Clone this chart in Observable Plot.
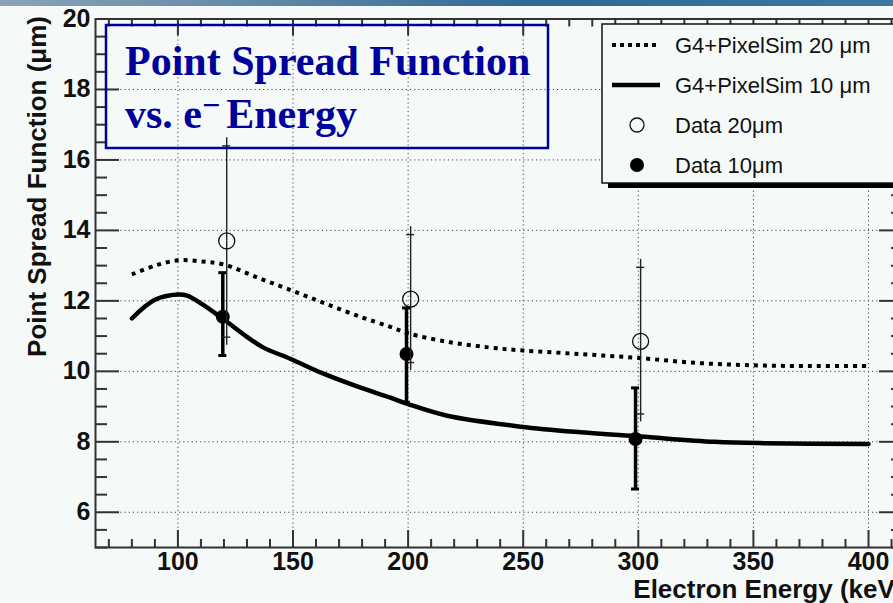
<!DOCTYPE html>
<html>
<head>
<meta charset="utf-8">
<script src="https://cdn.jsdelivr.net/npm/d3@7"></script>
<script src="https://cdn.jsdelivr.net/npm/@observablehq/plot@0.6"></script>
<style>
  html, body { margin: 0; padding: 0; background: #f5faf8; }
  #wrap { position: relative; width: 893px; height: 603px; overflow: hidden; background: #f5faf8; }
  #band { position: absolute; left: 0; top: 0; width: 893px; height: 6px;
          background: linear-gradient(90deg, #8aa3b6 0%, #6188a6 30%, #2e6995 60%, #3b78a4 100%); }
  #chart { position: absolute; left: 0; top: 0; }
</style>
</head>
<body>
<div id="wrap">
  <div id="band"></div>
  <div id="chart"></div>
</div>
<script>
// Geant4 + PixelSim simulation curves (PSF in µm vs electron energy in keV)
const simEnergy20 = [80, 90, 100, 110, 120, 135, 150, 165, 180, 192, 200, 217, 235, 250, 275, 300, 325, 350, 375, 400];
const simPsf20    = [12.75, 13.0, 13.15, 13.12, 13.03, 12.65, 12.28, 11.9, 11.53, 11.27, 11.08, 10.84, 10.68, 10.59, 10.49, 10.38, 10.24, 10.17, 10.15, 10.15];
const simEnergy10 = [80, 90, 100, 104, 110, 119, 130, 137, 149, 163, 180, 192, 200, 217, 249, 275, 301, 333, 355, 400];
const simPsf10    = [11.5, 12.03, 12.18, 12.15, 11.93, 11.52, 10.98, 10.68, 10.35, 9.94, 9.52, 9.26, 9.07, 8.74, 8.43, 8.27, 8.15, 8.0, 7.96, 7.94];

// Measured points with error bars
const dataEnergy10 = [119.5, 199.3, 298.8];
const dataPsf10    = [11.55, 10.49, 8.08];
const dataLow10    = [10.45, 9.12, 6.66];
const dataHigh10   = [12.8, 11.8, 9.53];
const dataEnergy20 = [121.2, 201.1, 301.0];
const dataPsf20    = [13.7, 12.05, 10.85];
const dataLow20    = [10.97, 10.25, 8.79];
const dataHigh20   = [16.4, 13.88, 12.95];

// Axes
const xDomain = [64.2, 415.2];
const yDomain = [5, 20];
const xMajor = [100, 150, 200, 250, 300, 350, 400];
const xMinor = d3.range(70, 411, 10).filter(v => v % 50 !== 0);
const yMajor = [6, 8, 10, 12, 14, 16, 18, 20];
const yMinor = d3.range(5, 20, 0.5).filter(v => v % 2 !== 0);
const xLabel = "Electron Energy (keV)";
const yLabel = "Point Spread Function (\u03bcm)";

// Text blocks
const titleLine1 = "Point Spread Function";
const titleLine2 = ["vs. e", "\u2212", "Energy"];
const legendLabels = ["G4+PixelSim 20 \u03bcm", "G4+PixelSim 10 \u03bcm", "Data 20\u03bcm", "Data 10\u03bcm"];

const sim20 = simEnergy20.map((x, i) => ({x, y: simPsf20[i]}));
const sim10 = simEnergy10.map((x, i) => ({x, y: simPsf10[i]}));
const data10 = dataEnergy10.map((x, i) => ({x, y: dataPsf10[i], lo: dataLow10[i], hi: dataHigh10[i]}));
const data20 = dataEnergy20.map((x, i) => ({x, y: dataPsf20[i], lo: dataLow20[i], hi: dataHigh20[i]}));

const W = 903, H = 603, mL = 95, mR = 0, mT = 18.5, mB = 56;
const fw = W - mL - mR, fh = H - mT - mB;
const axisColor = "#333";
const sans = "'Liberation Sans', Arial, Helvetica, sans-serif";

const chart = Plot.plot({
  width: W, height: H,
  marginLeft: mL, marginRight: mR, marginTop: mT, marginBottom: mB,
  style: {background: "transparent", maxWidth: "none", overflow: "visible", fontFamily: sans},
  x: {domain: xDomain},
  y: {domain: yDomain},
  marks: [
    // dotted grid
    Plot.gridX(xMajor, {stroke: "#444", strokeOpacity: 1, strokeWidth: 1, strokeDasharray: "1.2,3"}),
    Plot.gridY(yMajor, {stroke: "#444", strokeOpacity: 1, strokeWidth: 1, strokeDasharray: "1.2,3"}),
    // inward ticks on all four sides
    Plot.ruleX(xMajor, {insetTop: fh - 17, stroke: axisColor, strokeWidth: 2}),
    Plot.ruleX(xMinor, {insetTop: fh - 8, stroke: axisColor, strokeWidth: 2}),
    Plot.ruleX(xMajor, {insetBottom: fh - 17, stroke: axisColor, strokeWidth: 2}),
    Plot.ruleX(xMinor, {insetBottom: fh - 8, stroke: axisColor, strokeWidth: 2}),
    Plot.ruleY(yMajor, {insetRight: fw - 24, stroke: axisColor, strokeWidth: 2}),
    Plot.ruleY(yMinor, {insetRight: fw - 12, stroke: axisColor, strokeWidth: 2}),
    Plot.ruleY(yMajor, {insetLeft: fw - 24, stroke: axisColor, strokeWidth: 2}),
    Plot.ruleY(yMinor, {insetLeft: fw - 12, stroke: axisColor, strokeWidth: 2}),
    Plot.frame({stroke: axisColor, strokeWidth: 2}),
    // tick labels
    Plot.axisX(xMajor, {tickSize: 0, tickPadding: 5, label: null, fontSize: 25, fontWeight: "bold", fill: "#111"}),
    Plot.axisY(yMajor, {tickSize: 0, tickPadding: 5, label: null, fontSize: 25, fontWeight: "bold", fill: "#111"}),
    // axis titles
    Plot.text([xLabel], {frameAnchor: "bottom-right", dy: 50, textAnchor: "end", fontSize: 26, fontWeight: "bold", fill: "#111"}),
    Plot.text([yLabel], {frameAnchor: "top-left", rotate: -90, textAnchor: "end", dx: -68, dy: -3, fontSize: 26, fontWeight: "bold", fill: "#111"}),
    // simulation curves
    Plot.line(sim20, {x: "x", y: "y", curve: "catmull-rom", stroke: "#000", strokeWidth: 4, strokeDasharray: "4,5", strokeLinecap: "butt"}),
    Plot.line(sim10, {x: "x", y: "y", curve: "catmull-rom", stroke: "#000", strokeWidth: 4.5}),
    // 10 µm data: thick error bars with caps
    Plot.ruleX(data10, {x: "x", y1: "lo", y2: "hi", stroke: "#000", strokeWidth: 3.5}),
    Plot.ruleY(data10, {y: "hi", x1: "x", x2: "x", insetLeft: -4, insetRight: -4, stroke: "#000", strokeWidth: 3}),
    Plot.ruleY(data10, {y: "lo", x1: "x", x2: "x", insetLeft: -4, insetRight: -4, stroke: "#000", strokeWidth: 3}),
    Plot.dot(data10, {x: "x", y: "y", r: 7, fill: "#000", stroke: "none"}),
    // 20 µm data: thin error bars that stop at the open marker
    Plot.ruleX(data20, {x: "x", y1: "y", y2: "hi", insetBottom: 8, stroke: "#222", strokeWidth: 1.4}),
    Plot.ruleX(data20, {x: "x", y1: "lo", y2: "y", insetTop: 8, stroke: "#222", strokeWidth: 1.4}),
    Plot.ruleY(data20, {y: "hi", x1: "x", x2: "x", insetLeft: -4, insetRight: -4, stroke: "#222", strokeWidth: 1.4}),
    Plot.ruleY(data20, {y: "lo", x1: "x", x2: "x", insetLeft: -4, insetRight: -4, stroke: "#222", strokeWidth: 1.4}),
    Plot.dot(data20, {x: "x", y: "y", r: 8, fill: "none", stroke: "#111", strokeWidth: 1.3})
  ]
});

document.getElementById("chart").appendChild(chart);

// Title box and legend drawn on top of the frame
const svg = d3.select(chart);
const serif = "'Liberation Serif', 'Times New Roman', Times, serif";
const navy = "#00009c";

const titleG = svg.append("g").attr("text-anchor", "start");
titleG.append("rect")
  .attr("x", 106).attr("y", 25).attr("width", 442).attr("height", 123)
  .attr("fill", "none").attr("stroke", navy).attr("stroke-width", 2.5);
titleG.append("text")
  .attr("x", 125).attr("y", 75)
  .attr("font-family", serif).attr("font-weight", "bold").attr("font-size", 42).attr("fill", navy)
  .text(titleLine1);
const t2 = titleG.append("text")
  .attr("x", 125).attr("y", 128)
  .attr("font-family", serif).attr("font-weight", "bold").attr("font-size", 42).attr("fill", navy);
t2.append("tspan").text(titleLine2[0]);
t2.append("tspan").attr("dy", -12).attr("font-size", 32).text(titleLine2[1]);
t2.append("tspan").attr("dy", 12).attr("dx", 6).text(titleLine2[2]);

const legG = svg.append("g").attr("text-anchor", "start");
legG.append("rect").attr("x", 608).attr("y", 180).attr("width", 320).attr("height", 8).attr("fill", "#000");
legG.append("rect").attr("x", 602).attr("y", 24).attr("width", 320).attr("height", 159)
  .attr("fill", "#f5faf8").attr("stroke", "#111").attr("stroke-width", 1.5);
const rowY = [45, 85, 125, 165];
legG.append("line").attr("x1", 612).attr("x2", 660).attr("y1", rowY[0]).attr("y2", rowY[0])
  .attr("stroke", "#000").attr("stroke-width", 4).attr("stroke-dasharray", "4,4");
legG.append("line").attr("x1", 612).attr("x2", 660).attr("y1", rowY[1]).attr("y2", rowY[1])
  .attr("stroke", "#000").attr("stroke-width", 4.5);
legG.append("circle").attr("cx", 637).attr("cy", rowY[2]).attr("r", 7)
  .attr("fill", "none").attr("stroke", "#111").attr("stroke-width", 1.3);
legG.append("circle").attr("cx", 637).attr("cy", rowY[3]).attr("r", 7).attr("fill", "#000");
legendLabels.forEach((label, i) => {
  legG.append("text")
    .attr("x", 675).attr("y", rowY[i] + 7.5)
    .attr("font-family", sans).attr("font-size", 22).attr("fill", "#111")
    .text(label);
});
</script>
</body>
</html>
